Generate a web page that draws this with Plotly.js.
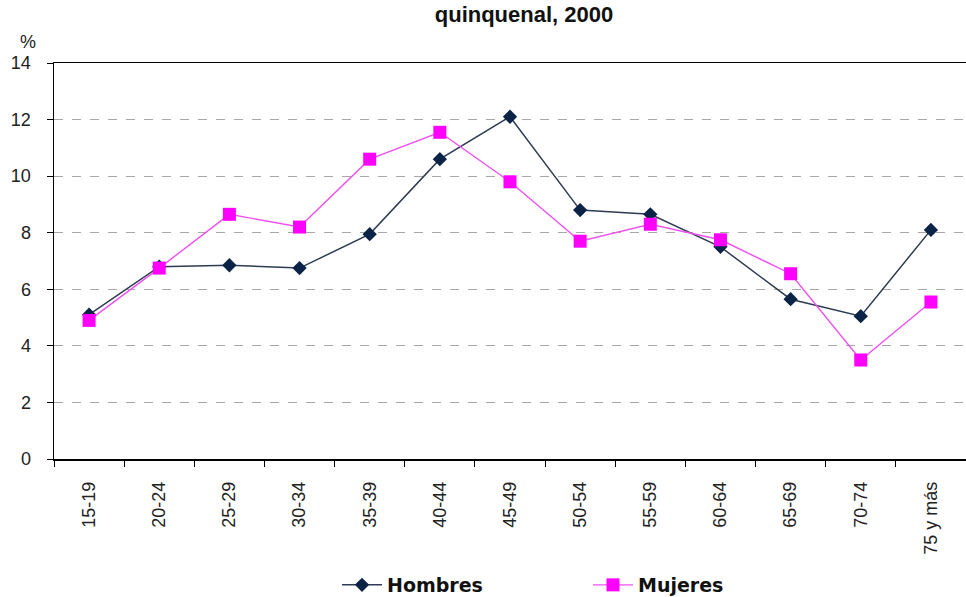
<!DOCTYPE html>
<html>
<head>
<meta charset="utf-8">
<script src="https://cdn.plot.ly/plotly-3.0.1.min.js"></script>
<style>html,body{margin:0;padding:0;background:#fff;overflow:hidden;}#chart{width:966px;height:597px;}</style>
</head>
<body>
<div id="chart"></div>
<script>
const categories = ["15-19","20-24","25-29","30-34","35-39","40-44","45-49","50-54","55-59","60-64","65-69","70-74","75 y más"];
const hombres = [5.1, 6.8, 6.85, 6.75, 7.95, 10.6, 12.1, 8.8, 8.65, 7.5, 5.65, 5.05, 8.1];
const mujeres = [4.9, 6.75, 8.65, 8.2, 10.6, 11.55, 9.8, 7.7, 8.3, 7.75, 6.55, 3.5, 5.55];
const yTicks = [0, 2, 4, 6, 8, 10, 12, 14];

const traces = [
  {
    x: categories, y: hombres, name: "Hombres", type: "scatter", mode: "lines+markers",
    line: {color: "#2e3b52", width: 1.5},
    marker: {symbol: "diamond", size: 11, color: "#0b2346"}
  },
  {
    x: categories, y: mujeres, name: "Mujeres", type: "scatter", mode: "lines+markers",
    line: {color: "#f050f0", width: 1.4},
    marker: {symbol: "square", size: 13, color: "#ff00ff"}
  }
];

const layout = {
  width: 966, height: 597,
  margin: {l: 54, r: 0, t: 63, b: 138},
  paper_bgcolor: "#fff", plot_bgcolor: "#fff",
  font: {family: "Liberation Sans, Arial, sans-serif", color: "#222"},
  title: {
    text: "<b>quinquenal, 2000</b>",
    font: {size: 22, color: "#111", family: "Liberation Sans, Arial, sans-serif"},
    x: 524/966, xanchor: "center", xref: "container",
    y: 1 - 14/597, yanchor: "middle", yref: "container",
    pad: {t: 0, b: 0}
  },
  xaxis: {
    type: "category",
    tickson: "boundaries",
    ticks: "outside", ticklen: 6, tickcolor: "#000", tickwidth: 1,
    showline: true, linecolor: "#000", linewidth: 1.5, mirror: true,
    showgrid: false, zeroline: false,
    tickangle: -90,
    ticklabelstandoff: 14,
    tickfont: {size: 18, color: "#222"},
    range: [-0.5, 12.5],
    automargin: false,
    fixedrange: true
  },
  yaxis: {
    range: [0, 14],
    tickvals: yTicks,
    ticks: "outside", ticklen: 6, tickcolor: "#000",
    showline: true, linecolor: "#000", linewidth: 1.5,
    showgrid: true, gridcolor: "#a8a8a8", griddash: "dash", gridwidth: 1,
    zeroline: false,
    ticklabelstandoff: 12,
    tickfont: {size: 18, color: "#222"},
    automargin: false,
    fixedrange: true
  },
  showlegend: true,
  legend: {
    orientation: "h",
    x: 337 / 966, xanchor: "left", xref: "container",
    y: 1 - 585 / 597, yanchor: "middle", yref: "container",
    font: {size: 19, color: "#111", family: "DejaVu Sans, Verdana, sans-serif", weight: "bold"},
    entrywidth: 196, entrywidthmode: "pixels",
    itemwidth: 40,
    bgcolor: "rgba(0,0,0,0)"
  },
  annotations: [
    {text: "%", xref: "paper", yref: "paper", x: -26/912, y: 1 + 21/396, showarrow: false,
     font: {size: 18, color: "#222"}, xanchor: "center", yanchor: "middle"}
  ]
};

Plotly.newPlot("chart", traces, layout, {displayModeBar: false, staticPlot: true});
</script>
</body>
</html>
